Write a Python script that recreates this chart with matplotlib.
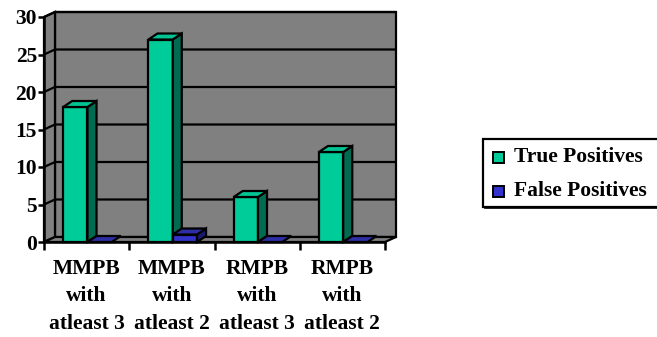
import matplotlib
matplotlib.use("Agg")
import matplotlib.pyplot as plt
from matplotlib.patches import Polygon, Rectangle

categories = ["MMPB\nwith\natleast 3", "MMPB\nwith\natleast 2", "RMPB\nwith\natleast 3", "RMPB\nwith\natleast 2"]
true_pos = [18, 27, 6, 12]
false_pos = [0, 1, 0, 0]
series_names = ["True Positives", "False Positives"]
yticks = [0, 5, 10, 15, 20, 25, 30]

FONT = ["Liberation Serif", "DejaVu Serif"]
FS = 15.5
GRAY = "#808080"
TP_FRONT, TP_SIDE, TP_TOP = "#00CC99", "#006B50", "#00C493"
FP_FRONT, FP_SIDE, FP_TOP = "#3333CC", "#1A1A70", "#2E2EA6"
LW = 1.6

W, H = 657, 337
fig = plt.figure(figsize=(W / 100, H / 100), dpi=100)
ax = fig.add_axes([44 / W, 1 - 242 / H, (385 - 44) / W, (242 - 17) / H])
ax.set_xlim(0, len(categories))
ax.set_ylim(0, 30)
ax.set_facecolor("none")

# depth offsets (data units)
DX, DY = 0.129, 0.667      # walls
DXB, DYB = 0.106, 0.8      # bars
n = len(categories)
top = yticks[-1]

def poly(pts, fc, z, lw=LW):
    p = Polygon(pts, closed=True, facecolor=fc, edgecolor="black", lw=lw,
                clip_on=False, zorder=z, joinstyle="miter")
    ax.add_patch(p)

# back wall, left wall, floor
poly([(DX, DY), (n + DX, DY), (n + DX, top + DY), (DX, top + DY)], GRAY, 1)
poly([(0, 0), (DX, DY), (DX, top + DY), (0, top)], GRAY, 1)
poly([(0, 0), (n, 0), (n + DX, DY), (DX, DY)], GRAY, 1)
for v in yticks[1:]:
    ax.plot([0, DX, n + DX], [v, v + DY, v + DY], color="black", lw=1.6,
            clip_on=False, zorder=2, solid_capstyle="butt")

def bar3d(x0, w, v, front, side, topc, z):
    if v > 0:
        ax.add_patch(Rectangle((x0, 0), w, v, facecolor=front, edgecolor="black",
                               lw=LW, clip_on=False, zorder=z))
        poly([(x0 + w, 0), (x0 + w + DXB, DYB), (x0 + w + DXB, v + DYB), (x0 + w, v)], side, z)
    poly([(x0, v), (x0 + w, v), (x0 + w + DXB, v + DYB), (x0 + DXB, v + DYB)], topc, z)

BW = 0.285
for i in range(n):
    bar3d(i + 0.225, BW, true_pos[i], TP_FRONT, TP_SIDE, TP_TOP, 3 + 2 * i)
    bar3d(i + 0.225 + BW, BW, false_pos[i], FP_FRONT, FP_SIDE, FP_TOP, 4 + 2 * i)

# axes
for s in ["top", "right"]:
    ax.spines[s].set_visible(False)
ax.spines["left"].set_linewidth(1.8)
ax.spines["bottom"].set_linewidth(1.8)
ax.spines["left"].set_zorder(20)
ax.spines["bottom"].set_zorder(20)
ax.set_yticks(yticks)
ax.set_yticklabels([str(t) for t in yticks])
ax.tick_params(axis="y", length=4, width=1.8, pad=1, labelsize=FS)
ax.set_xticks(range(n + 1))
ax.set_xticklabels([""] * (n + 1))
ax.tick_params(axis="x", which="major", length=6, width=1.8)
ax.set_xticks([i + 0.5 for i in range(n)], minor=True)
ax.set_xticklabels(categories, minor=True)
ax.tick_params(axis="x", which="minor", length=0, pad=12, labelsize=FS)
for lab in ax.get_yticklabels() + ax.get_xticklabels(minor=True):
    lab.set_family(FONT)
    lab.set_weight("bold")
for lab in ax.get_xticklabels(minor=True):
    lab.set_linespacing(1.5)

# legend
def fx(px):
    return px / W

def fy(py):
    return 1 - py / H

fig.patches.append(Rectangle((fx(483), fy(207)), fx(670) - fx(483), fy(139) - fy(207),
                             transform=fig.transFigure, facecolor="white",
                             edgecolor="black", lw=1.6, clip_on=False))
fig.lines.append(plt.Line2D([fx(485), fx(670)], [fy(207.5), fy(207.5)],
                            transform=fig.transFigure, color="black", lw=1.2))
for j, (name, col) in enumerate(zip(series_names, [TP_FRONT, FP_FRONT])):
    cy = 157 + 34 * j
    fig.text(fx(514), fy(cy), name, family=FONT, weight="bold", fontsize=FS,
             va="center", ha="left")
    fig.patches.append(Rectangle((fx(493), fy(cy + 5.5)), fx(504) - fx(493), fy(cy - 5.5) - fy(cy + 5.5),
                                 transform=fig.transFigure, facecolor=col,
                                 edgecolor="black", lw=1.4))

fig.savefig("out.png", dpi=100)
